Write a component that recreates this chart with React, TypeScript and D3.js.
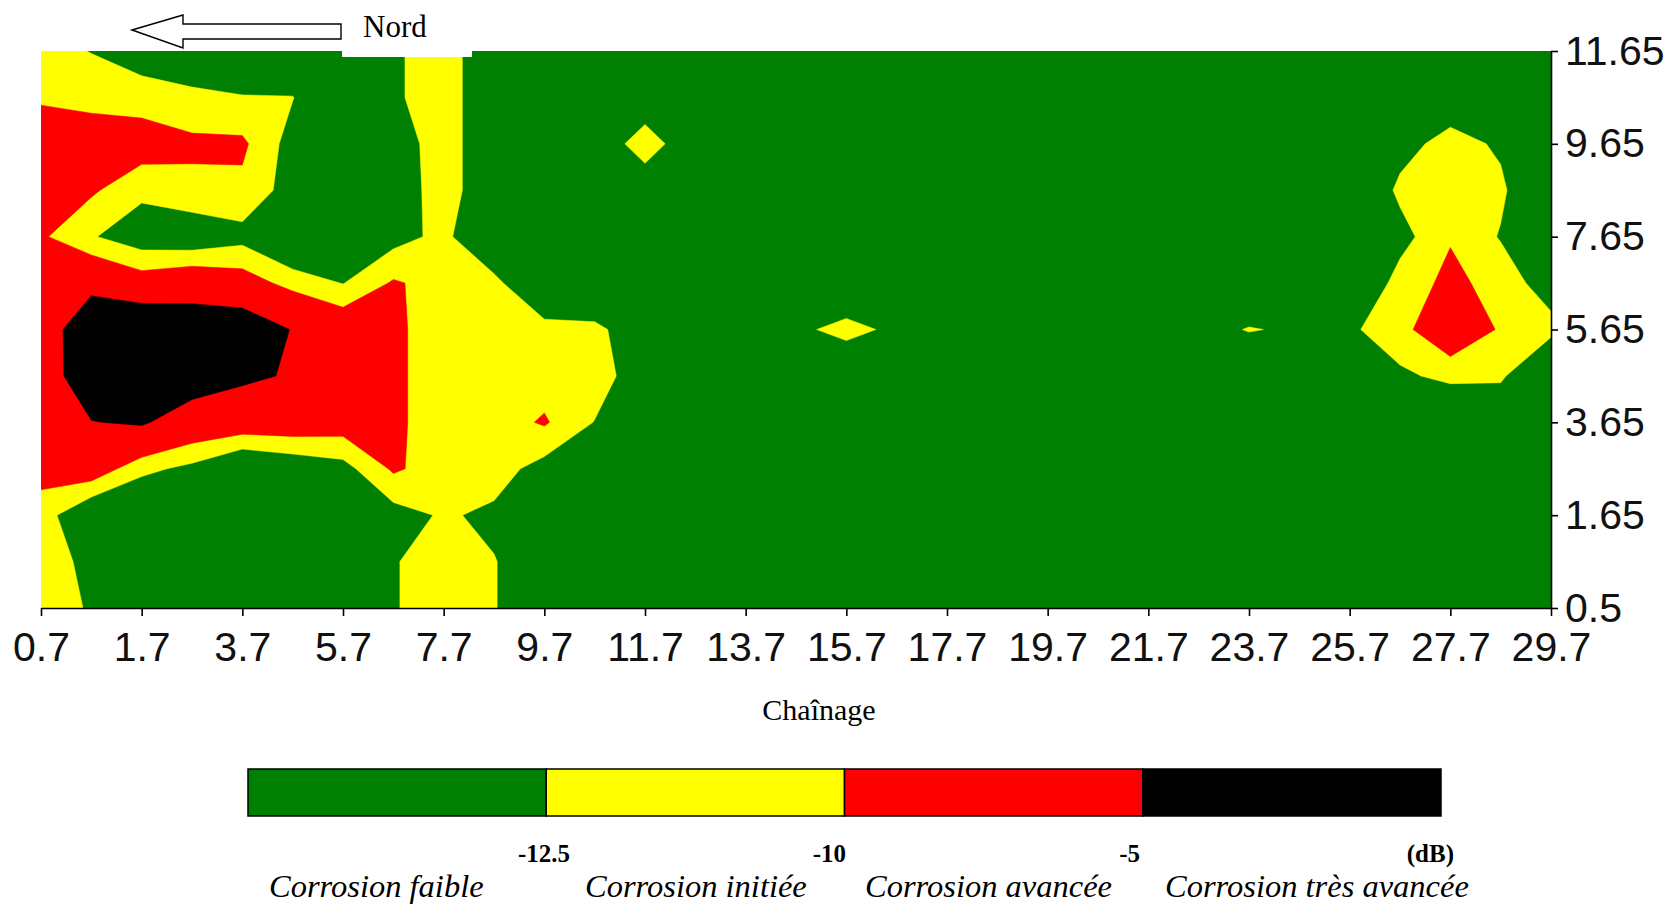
import React, { useRef, useEffect } from 'react';
import * as d3 from 'd3';

// axis labels (category axes, equally spaced)
const xLabels = ['0.7', '1.7', '3.7', '5.7', '7.7', '9.7', '11.7', '13.7', '15.7', '17.7', '19.7', '21.7', '23.7', '25.7', '27.7', '29.7'];
const yLabels = ['0.5', '1.65', '3.65', '5.65', '7.65', '9.65', '11.65'];

// legend classes
const thresholds = [-12.5, -10, -5];
const bandColors = ['#008000', '#ffff00', '#ff0000', '#000000'];
const bandNames = ['Corrosion faible', 'Corrosion initiée', 'Corrosion avancée', 'Corrosion très avancée'];
const bandLimits = ['-12.5', '-10', '-5', '(dB)'];

// attenuation (dB): 31 columns (half steps between x labels),
// rows from top (11.65) to bottom (0.5) in half steps between y labels
const row00 = [-11.5, -12.6, -14, -16, -16, -16, -16, -12.8, -11.5, -14.2, -16, -16, -16, -16, -16, -16, -16, -16, -16, -16, -16, -16, -16, -16, -16, -16, -16, -16, -16, -16, -16];
const row01 = [-10.4, -10.8, -11.2, -11.5, -12.3, -12.4, -16, -12.8, -11.5, -14.2, -16, -16, -13.9, -16, -16, -16, -16, -16, -16, -16, -16, -16, -16, -16, -16, -16, -16, -16, -14.3, -16, -16];
const row02 = [-8.0, -8.45, -8.5, -9.55, -9.5, -13.6, -16, -13.6, -11.5, -14.2, -16, -14, -11.5, -14, -16, -16, -16, -16, -16, -16, -16, -16, -16, -16, -16, -16, -16, -13.5, -11.5, -12.9, -16];
const row03 = [-8.5, -9.6, -11.9, -10.6, -10.6, -13.7, -16, -13.8, -11.5, -14.2, -16, -16, -13.9, -16, -16, -16, -16, -16, -16, -16, -16, -16, -16, -16, -16, -16, -16, -11.93, -11, -12.0, -16];
const row04 = [-9.6, -12.28, -14.1, -14.6, -13.4, -16, -16, -13.5, -11.8, -15.7, -16, -16, -16, -16, -16, -16, -16, -16, -16, -16, -16, -16, -16, -16, -16, -16, -16, -13.5, -10.2, -12.7, -16];
const row05 = [-8.0, -6.5, -8.5, -7.4, -8.5, -11, -12.6, -9.7, -11, -11.7, -16, -16, -16, -16, -16, -16, -15.7, -16, -16, -16, -16, -16, -16, -16, -16, -16, -16, -11.4, -9.34, -10.95, -14.05];
const row06 = [-8.1, -1, -0.5, -2, -2, -5.2, -7.6, -9.6, -11, -11.2, -11.5, -11.8, -14.5, -16, -16, -13.2, -11.5, -13.2, -16, -16, -16, -16, -16, -13.8, -12.3, -13.0, -12.96, -10.88, -7.5, -10.31, -11.5];
const row07 = [-7.5, -2, -1, -2.5, -4.2, -5.4, -8, -9.6, -11, -11.2, -11.2, -11.0, -14.5, -16, -16, -16, -15.7, -16, -16, -16, -16, -16, -16, -16, -16, -16, -16, -13, -11.8, -11.9, -17.5];
const row08 = [-8, -5.13, -4.5, -7.4, -8, -8, -8.5, -9.6, -11, -11.2, -9.7, -12.6, -16, -16, -16, -16, -16, -16, -16, -16, -16, -16, -16, -16, -16, -16, -16, -16, -16, -16, -16];
const row09 = [-9, -8.1, -11.8, -13.2, -15.8, -14.6, -13.5, -9.6, -11.3, -11.4, -13.5, -16, -16, -16, -16, -16, -16, -16, -16, -16, -16, -16, -16, -16, -16, -16, -16, -16, -16, -16, -16];
const row10 = [-11.2, -15.3, -16, -16, -16, -16, -16, -13.6, -12.2, -13, -16, -16, -16, -16, -16, -16, -16, -16, -16, -16, -16, -16, -16, -16, -16, -16, -16, -16, -16, -16, -16];
const row11 = [-11.8, -12.9, -16, -16, -16, -16, -16, -12.65, -11.5, -12.4, -14, -16, -16, -16, -16, -16, -16, -16, -16, -16, -16, -16, -16, -16, -16, -16, -16, -16, -16, -16, -16];
const row12 = [-11.5, -12.7, -16, -16, -16, -16, -16, -12.65, -11.5, -12.4, -14, -16, -16, -16, -16, -16, -16, -16, -16, -16, -16, -16, -16, -16, -16, -16, -16, -16, -16, -16, -16];
const grid = [row00, row01, row02, row03, row04, row05, row06, row07, row08, row09, row10, row11, row12];

export default function App() {
  const svgRef = useRef(null);

  useEffect(() => {
    const svg = d3.select(svgRef.current);
    svg.selectAll('*').remove();

    const left = 41, right = 1551, top = 51, bottom = 608;
    const nx = grid[0].length;
    const ny = grid.length;

    // grid space -> pixels (values sit at cell centres in d3.contours)
    const gx = d3.scaleLinear().domain([0.5, nx - 0.5]).range([left, right]);
    const gy = d3.scaleLinear().domain([0.5, ny - 0.5]).range([top, bottom]);
    const proj = d3.geoTransform({
      point: function (px, py) {
        this.stream.point(gx(px), gy(py));
      },
    });
    const path = d3.geoPath(proj);

    const bands = d3.contours().size([nx, ny]).thresholds(thresholds)(grid.flat());

    svg.append('clipPath').attr('id', 'plotclip')
      .append('rect')
      .attr('x', left).attr('y', top)
      .attr('width', right - left).attr('height', bottom - top);

    const plot = svg.append('g').attr('clip-path', 'url(#plotclip)');
    plot.append('rect')
      .attr('x', left).attr('y', top)
      .attr('width', right - left).attr('height', bottom - top)
      .attr('fill', bandColors[0]);
    plot.selectAll('path.band')
      .data(bands)
      .join('path')
      .attr('class', 'band')
      .attr('d', path)
      .attr('fill', (d, i) => bandColors[i + 1])
      .attr('stroke', (d, i) => bandColors[i + 1])
      .attr('stroke-width', 0.5);

    // axes
    const xs = d3.scalePoint().domain(xLabels).range([left, right]);
    const ys = d3.scalePoint().domain(yLabels).range([bottom, top]);

    const xAxis = svg.append('g')
      .attr('transform', `translate(0,${bottom})`)
      .call(d3.axisBottom(xs).tickSize(8).tickSizeOuter(0).tickPadding(16));
    const yAxis = svg.append('g')
      .attr('transform', `translate(${right},0)`)
      .call(d3.axisRight(ys).tickSize(7).tickSizeOuter(0).tickPadding(7));
    [xAxis, yAxis].forEach(ax => {
      ax.selectAll('path,line').attr('stroke', '#000').attr('stroke-width', 1.6);
      ax.selectAll('text')
        .attr('fill', '#111')
        .style('font-family', 'Arial, "Liberation Sans", sans-serif')
        .style('font-size', '41px');
    });

    svg.append('text')
      .attr('x', 819).attr('y', 720)
      .attr('text-anchor', 'middle')
      .style('font-family', '"Liberation Serif", "Times New Roman", serif')
      .style('font-size', '30px')
      .text('Chaînage');

    // north arrow over the top of the map
    svg.append('rect')
      .attr('x', 342).attr('y', 40).attr('width', 130).attr('height', 17)
      .attr('fill', '#fff');
    svg.append('path')
      .attr('d', 'M132,30 L183,15 L183,24 L341,24 L341,39 L183,39 L183,48 Z')
      .attr('fill', '#fff')
      .attr('stroke', '#000')
      .attr('stroke-width', 1.4);
    svg.append('text')
      .attr('x', 363).attr('y', 37)
      .style('font-family', '"Liberation Serif", "Times New Roman", serif')
      .style('font-size', '31px')
      .text('Nord');

    // legend
    const lb = d3.scaleBand().domain(bandNames).range([248, 1441]);
    const legend = svg.append('g');
    legend.selectAll('rect')
      .data(bandNames)
      .join('rect')
      .attr('x', d => lb(d))
      .attr('y', 769)
      .attr('width', lb.bandwidth())
      .attr('height', 47)
      .attr('fill', (d, i) => bandColors[i])
      .attr('stroke', '#000')
      .attr('stroke-width', 1.5);

    const limitX = [570, 846, 1140, 1454];
    legend.selectAll('text.limit')
      .data(bandLimits)
      .join('text')
      .attr('class', 'limit')
      .attr('x', (d, i) => limitX[i])
      .attr('y', 862)
      .attr('text-anchor', 'end')
      .style('font-family', '"Liberation Serif", "Times New Roman", serif')
      .style('font-weight', 'bold')
      .style('font-size', '25px')
      .text(d => d);

    const nameX = [269, 585, 865, 1165];
    legend.selectAll('text.name')
      .data(bandNames)
      .join('text')
      .attr('class', 'name')
      .attr('x', (d, i) => nameX[i])
      .attr('y', 897)
      .style('font-family', '"Liberation Serif", "Times New Roman", serif')
      .style('font-style', 'italic')
      .style('font-size', '32.5px')
      .text(d => d);
  }, []);

  return (
    <svg
      ref={svgRef}
      xmlns="http://www.w3.org/2000/svg"
      width="1679"
      height="907"
      viewBox="0 0 1679 907"
      style={{ position: 'absolute', left: 0, top: 0, background: '#fff' }}
    />
  );
}
